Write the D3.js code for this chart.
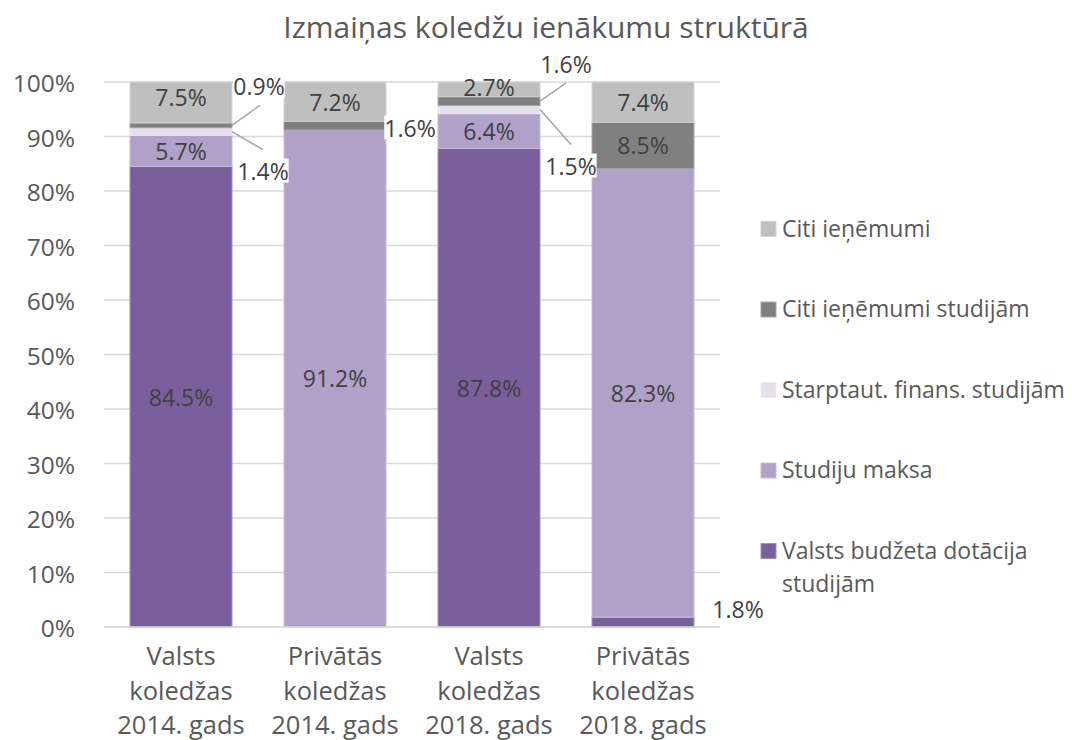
<!DOCTYPE html>
<html>
<head>
<meta charset="utf-8">
<script src="https://cdn.jsdelivr.net/npm/d3@7"></script>
<style>
  html, body { margin: 0; padding: 0; background: #fff; }
  svg { display: block; font-family: "Open Sans", sans-serif; }
</style>
</head>
<body>
<svg id="chart" width="1072" height="740"></svg>
<script>
// ---- data ----
const categories = [
  ["Valsts", "koledžas", "2014. gads"],
  ["Privātās", "koledžas", "2014. gads"],
  ["Valsts", "koledžas", "2018. gads"],
  ["Privātās", "koledžas", "2018. gads"]
];
const seriesNames = [
  "Valsts budžeta dotācija studijām",
  "Studiju maksa",
  "Starptaut. finans. studijām",
  "Citi ieņēmumi studijām",
  "Citi ieņēmumi"
];
const valstsBudzets   = [84.5, 0.0, 87.8, 1.8];
const studijuMaksa    = [5.7, 91.2, 6.4, 82.3];
const starptautFinans = [1.4, 0.0, 1.5, 0.0];
const citiStudijam    = [0.9, 1.6, 1.6, 8.5];
const citiIenemumi    = [7.5, 7.2, 2.7, 7.4];
const yTicks = [0, 10, 20, 30, 40, 50, 60, 70, 80, 90, 100];

// ---- styles ----
const colors = ["#7b5e9c", "#b1a1c8", "#e6dfed", "#808080", "#bfbfbf"];
// label placement for small segments: [category, series, dx, dy, leaderDx, leaderDy]
const outsideLabels = [
  [0, 3, 27, -39, 28, -20],
  [0, 2, 31, 39, 31, 18],
  [1, 3, 24, 2, null, null],
  [2, 3, 26, -37, 26, -18],
  [2, 2, 31, 56, 31, 35],
  [3, 0, 44, -13, null, null]
];
// small vertical nudges for inside labels: [category, series, dy]
const insideNudges = [[0, 4, -5], [2, 4, -2]];

const seriesValues = [valstsBudzets, studijuMaksa, starptautFinans, citiStudijam, citiIenemumi];
const svg = d3.select("#chart");
const mLeft = 104, mRight = 720, mTop = 82, mBottom = 627;

const x = d3.scaleBand().domain(d3.range(categories.length))
  .range([mLeft, mRight]).paddingInner(0.338).paddingOuter(0.169);
const y = d3.scaleLinear().domain([0, 100]).range([mBottom, mTop]);

// title
svg.append("text").attr("x", 546).attr("y", 38)
  .attr("text-anchor", "middle")
  .attr("font-size", 30).attr("fill", "#595959")
  .text("Izmaiņas koledžu ienākumu struktūrā");

// gridlines
svg.append("g").selectAll("line").data(yTicks).join("line")
  .attr("x1", mLeft).attr("x2", mRight)
  .attr("y1", d => y(d)).attr("y2", d => y(d))
  .attr("stroke", "#d9d9d9").attr("stroke-width", 1.3);

// y axis labels
const yAxis = d3.axisLeft(y).tickValues(yTicks).tickFormat(d => d + "%").tickSize(0).tickPadding(0);
const yg = svg.append("g").attr("transform", `translate(${mLeft - 29},0)`).call(yAxis);
yg.select(".domain").remove();
yg.selectAll("text").attr("font-size", 24.5).attr("fill", "#595959")
  .attr("font-family", "Open Sans, sans-serif").attr("dy", "0.4em");

// stack
const rows = categories.map((c, i) => {
  const r = { i };
  seriesValues.forEach((arr, s) => r[s] = arr[i]);
  return r;
});
const stack = d3.stack().keys(d3.range(seriesNames.length));
const stacked = stack(rows);

const gBars = svg.append("g");
stacked.forEach((layer, s) => {
  gBars.append("g").selectAll("rect").data(layer.filter(d => d[1] - d[0] > 0)).join("rect")
    .attr("x", d => x(d.data.i))
    .attr("width", x.bandwidth())
    .attr("y", d => y(d[1]))
    .attr("height", d => y(d[0]) - y(d[1]))
    .attr("fill", colors[s])
    .attr("stroke", d3.interpolateRgb(colors[s], "#ffffff")(0.3))
    .attr("stroke-width", 1);
});

// baseline
svg.append("line").attr("x1", mLeft).attr("x2", mRight)
  .attr("y1", y(0)).attr("y2", y(0))
  .attr("stroke", "#d9d9d9").attr("stroke-width", 1.5);

// inside labels
const isOutside = (i, s) => outsideLabels.some(o => o[0] === i && o[1] === s);
const nudge = (i, s) => { const n = insideNudges.find(o => o[0] === i && o[1] === s); return n ? n[2] : 0; };
const gLab = svg.append("g");
stacked.forEach((layer, s) => {
  layer.forEach(d => {
    const v = d[1] - d[0];
    if (v <= 0 || isOutside(d.data.i, s)) return;
    gLab.append("text")
      .attr("x", x(d.data.i) + x.bandwidth() / 2)
      .attr("y", (y(d[0]) + y(d[1])) / 2 + nudge(d.data.i, s))
      .attr("text-anchor", "middle").attr("dominant-baseline", "central")
      .attr("font-size", 23).attr("fill", "#404040")
      .text(v.toFixed(1) + "%");
  });
});

// outside labels with leader lines
outsideLabels.forEach(([i, s, dx, dy, lx, ly]) => {
  const d = stacked[s][i];
  const ax = x(i) + x.bandwidth();
  const ay = (y(d[0]) + y(d[1])) / 2;
  if (lx !== null) {
    gLab.append("line").attr("x1", ax).attr("y1", ay)
      .attr("x2", ax + lx).attr("y2", ay + ly)
      .attr("stroke", "#a6a6a6").attr("stroke-width", 1.5);
  }
  const t = gLab.append("text")
    .attr("x", ax + dx).attr("y", ay + dy)
    .attr("text-anchor", "middle").attr("dominant-baseline", "central")
    .attr("font-size", 23).attr("fill", "#404040")
    .text(seriesValues[s][i].toFixed(1) + "%");
  const bb = t.node().getBBox();
  gLab.insert("rect", () => t.node())
    .attr("x", bb.x).attr("y", bb.y + 4).attr("width", bb.width).attr("height", bb.height - 8)
    .attr("fill", "#fff");
});

// x axis labels
const gx = svg.append("g");
categories.forEach((lines, i) => {
  const t = gx.append("text")
    .attr("x", x(i) + x.bandwidth() / 2)
    .attr("text-anchor", "middle")
    .attr("font-size", 25.5).attr("fill", "#595959");
  lines.forEach((ln, k) => {
    t.append("tspan").attr("x", x(i) + x.bandwidth() / 2)
      .attr("y", 665 + k * 34.5).text(ln);
  });
});

// legend (reverse order)
const legendOrder = d3.range(seriesNames.length).reverse();
const gLeg = svg.append("g");
legendOrder.forEach((s, k) => {
  const cy = 229 + k * 80.5;
  gLeg.append("rect").attr("x", 761).attr("y", cy - 7.5).attr("width", 15).attr("height", 15)
    .attr("fill", colors[s]).attr("stroke", d3.interpolateRgb(colors[s], "#ffffff")(0.3));
  const name = seriesNames[s];
  const parts = name === "Valsts budžeta dotācija studijām"
    ? ["Valsts budžeta dotācija", "studijām"] : [name];
  const t = gLeg.append("text").attr("font-size", 23).attr("fill", "#595959");
  parts.forEach((p, j) => {
    t.append("tspan").attr("x", 782).attr("y", cy + 7.5 + j * 33).text(p);
  });
});
</script>
</body>
</html>
